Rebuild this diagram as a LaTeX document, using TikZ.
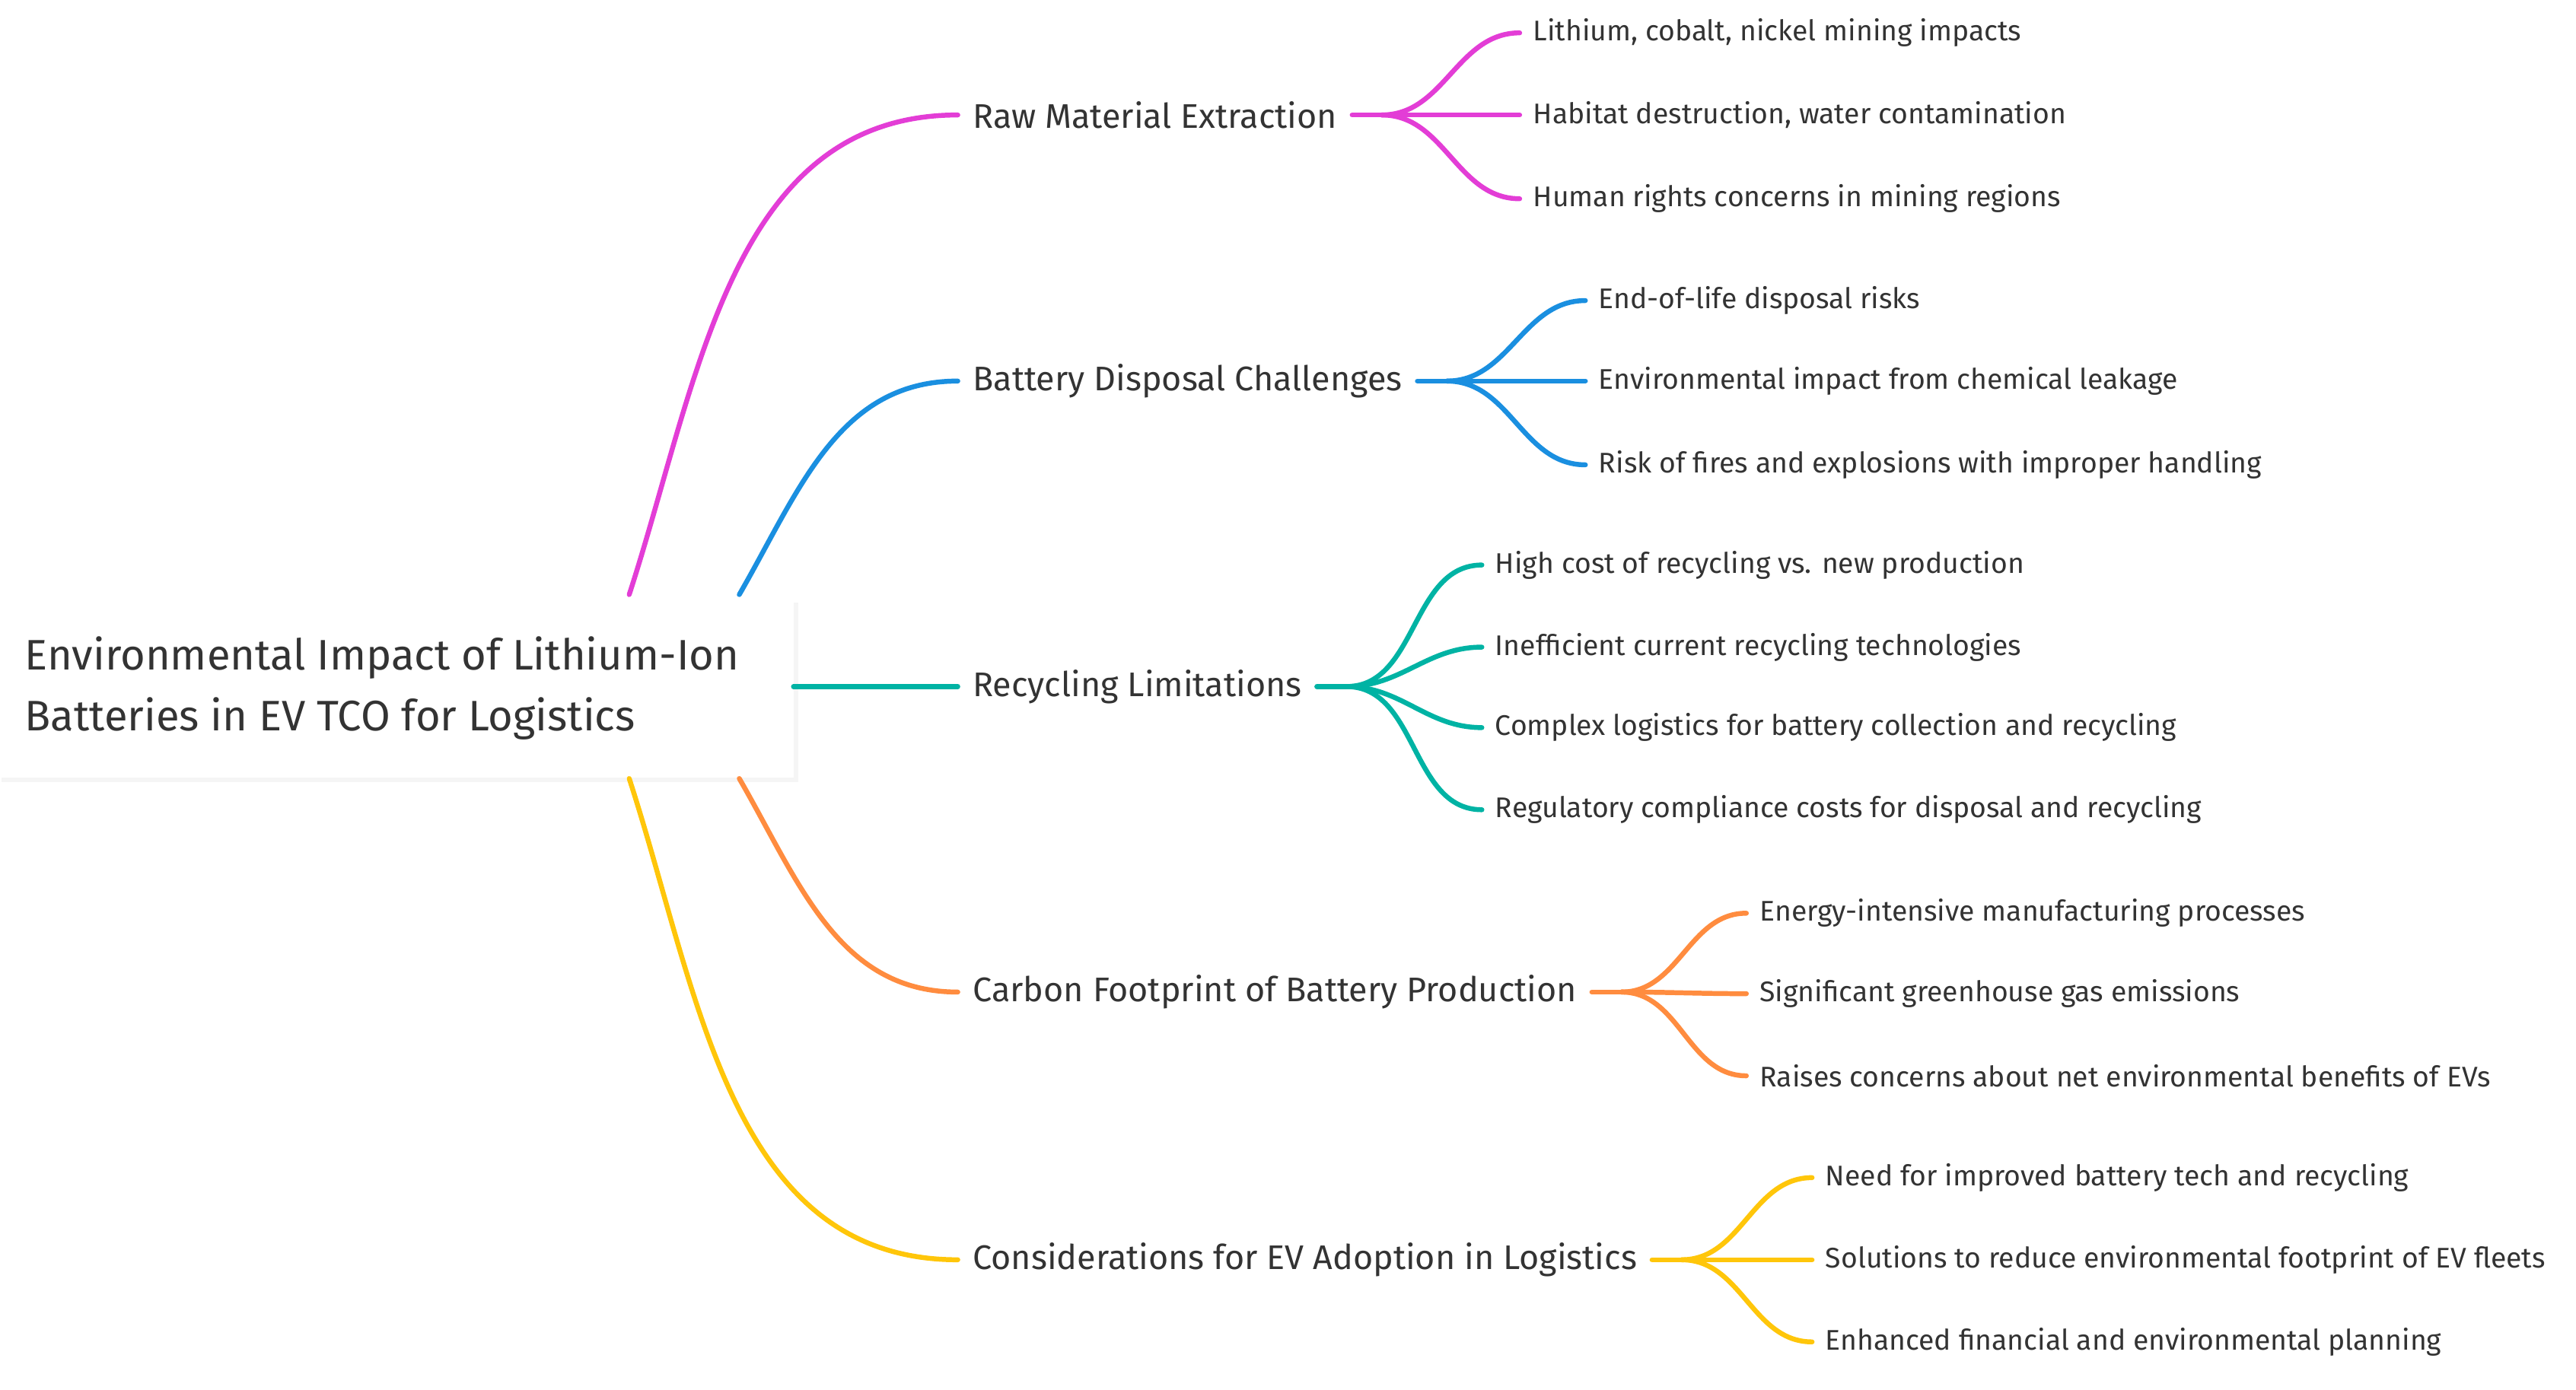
\documentclass[tikz,border=0pt]{standalone}
\usepackage{fontspec}
\setmainfont{Fira Sans}
\begin{document}
\begin{tikzpicture}[x=1pt,y=-1pt,
 txt/.style={text=black!80,anchor=west,inner xsep=8pt,inner ysep=2pt},
 leaf/.style={txt,font=\fontsize{17.3}{20}\selectfont},
 br/.style={txt,inner xsep=9pt,font=\fontsize{20.8}{25}\selectfont},
 ln/.style={line width=3pt,line cap=round}]
\definecolor{colM}{HTML}{E33DD6}\definecolor{colB}{HTML}{1A8FE0}\definecolor{colT}{HTML}{00B3A4}
\definecolor{colO}{HTML}{FF8C3F}\definecolor{colY}{HTML}{FFC60A}
\useasboundingbox (0,0) rectangle (1568,846);
\fill[black!4] (1,367) rectangle (486,476);
\node[draw=none,fill=white,minimum width=483pt,minimum height=108pt,anchor=north west,inner sep=0] (root) at (0,365) {};
\node[anchor=west,text=black!80,align=left,font=\fontsize{26}{37}\selectfont,inner sep=0] (rt) at (15,419) {Environmental Impact of Lithium-Ion\\Batteries in EV TCO for Logistics};
\coordinate (rm) at (383,362);\coordinate (rb) at (450,362);\coordinate (rtl) at (483,418);
\coordinate (ro) at (450,474);\coordinate (ry) at (383,474);
% branches
\node[br] (b1) at (583,70) {Raw Material Extraction};
\node[br] (b2) at (583,232) {Battery Disposal Challenges};
\node[br] (b3) at (583,418) {Recycling Limitations};
\node[br] (b4) at (583,604) {Carbon Footprint of Battery Production};
\node[br] (b5) at (583,767) {Considerations for EV Adoption in Logistics};
\draw[ln,draw=colM] (rm) to[out=72,in=180] (b1.west);
\draw[ln,draw=colB] (rb) to[out=60,in=180] (b2.west);
\draw[ln,draw=colT] (rtl) -- (b3.west);
\draw[ln,draw=colO] (ro) to[out=-60,in=180] (b4.west);
\draw[ln,draw=colY] (ry) to[out=-72,in=180] (b5.west);
% leaves
\foreach \c/\b/\x/\lst in {colM/b1/925/{20/Lithium{,} cobalt{,} nickel mining impacts,70/Habitat destruction{,} water contamination,121/Human rights concerns in mining regions},
 colB/b2/965/{183/End-of-life disposal risks,232/Environmental impact from chemical leakage,283/Risk of fires and explosions with improper handling},
 colT/b3/902/{344/High cost of recycling vs. new production,394/Inefficient current recycling technologies,443/Complex logistics for battery collection and recycling,493/Regulatory compliance costs for disposal and recycling},
 colO/b4/1063/{556/Energy-intensive manufacturing processes,605/Significant greenhouse gas emissions,655/Raises concerns about net environmental benefits of EVs},
 colY/b5/1103/{717/Need for improved battery tech and recycling,767/Solutions to reduce environmental footprint of EV fleets,817/Enhanced financial and environmental planning}}{
  \coordinate (s) at ([xshift=18pt]\b.east);
  \draw[ln,draw=\c] (\b.east) -- (s);
  \foreach \y/\t in \lst {
    \node[leaf] (l\y) at (\x,\y) {\t};
    \draw[ln,draw=\c] (s) to[out=0,in=180] (l\y.west);
  }
}
\end{tikzpicture}
\end{document}
